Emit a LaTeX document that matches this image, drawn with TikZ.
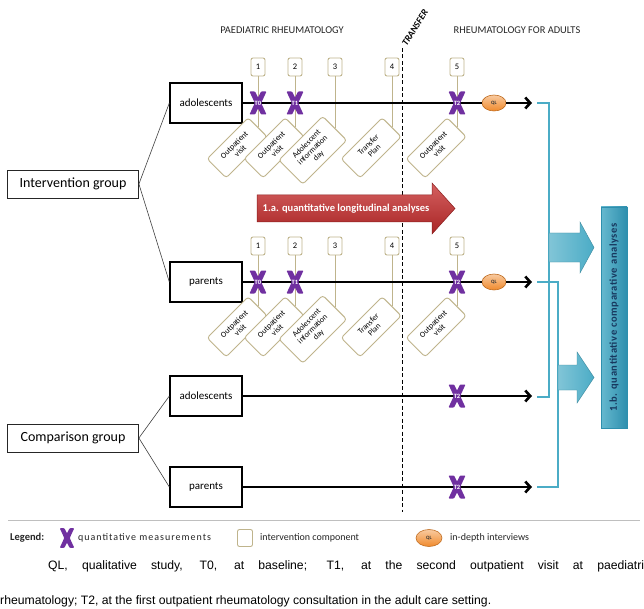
\documentclass[tikz,border=0pt]{standalone}
\usepackage{fontspec}
\setmainfont{Carlito}
\newfontfamily\arialf{Liberation Sans}
\usetikzlibrary{shapes.geometric,arrows.meta}
\definecolor{xpurple}{HTML}{7030A0}
\definecolor{khaki}{HTML}{BFB48C}
\definecolor{aqua}{HTML}{4BACC6}
\definecolor{aquadark}{HTML}{2E8FAE}
\definecolor{navy}{HTML}{17375E}
\definecolor{qlorange}{HTML}{F08A2C}
\definecolor{redarrow}{HTML}{C62B2B}
\newcommand{\pmark}[3]{%
  \begin{scope}[shift={(#2)}]
    \fill[xpurple,rounded corners=0.8pt] (-8.5,-11.5) -- (-3,-11.5) -- (0,-5.5) -- (3,-11.5) -- (8.5,-11.5) -- (3.2,0) -- (8.5,11.5) -- (3,11.5) -- (0,5.5) -- (-3,11.5) -- (-8.5,11.5) -- (-3.2,0) -- cycle;
    \node[xlab] (#1) at (0,0) {#3};
  \end{scope}}
\begin{document}
\begin{tikzpicture}[x=1pt,y=-1pt,
  grp/.style={draw=black!85, line width=0.8pt, minimum width=131pt, minimum height=28pt, inner sep=0pt, font=\fontsize{14}{16}\selectfont},
  sub/.style={draw=black, line width=1.3pt, minimum width=72pt, minimum height=40pt, inner sep=0pt, font=\fontsize{11}{13}\selectfont},
  numbox/.style={draw=khaki, line width=0.9pt, rounded corners=2pt, fill=white, minimum width=14pt, minimum height=18pt, inner sep=0pt, font=\fontsize{8.5}{9}\selectfont},
  compbox/.style={draw=khaki, line width=0.9pt, rounded corners=3pt, fill=white, align=center, rotate=45, anchor=east, minimum width=58pt, minimum height=27pt, inner sep=1pt, font=\fontsize{8}{8.5}\selectfont},
  bigcomp/.style={compbox, minimum width=62pt, minimum height=34pt},
  khline/.style={draw=khaki, line width=0.8pt},
  mainline/.style={line width=2.6pt},
  mainarrow/.style={line width=2.6pt, -{Straight Barb[length=5pt,width=11pt,line width=2.6pt]}},
  grpline/.style={draw=black!75, line width=0.6pt},
  xlab/.style={inner sep=0pt, text=white, font=\fontsize{6.5}{6.5}\bfseries},
  ql/.style={ellipse, draw=qlorange!80!black, line width=0.6pt, top color=qlorange!45!white, bottom color=qlorange, minimum width=24pt, minimum height=16pt, inner sep=0pt, font=\fontsize{5}{5}\bfseries, text=black!80},
  brk/.style={draw=aqua, line width=2.2pt},
  cyarrow/.style={left color=aqua!70!white, right color=aqua, draw=aqua!80!black, line width=0.4pt},
  hdr/.style={font=\fontsize{10.4}{12}\selectfont, text=black!85},
  legtxt/.style={anchor=west, inner sep=0pt, font=\fontsize{10}{11}\selectfont, text=black!85}
]
\useasboundingbox (0,0) rectangle (644,609);
\fill[white] (0,0) rectangle (644,609);

% headers
\node[hdr] (hpaed) at (282,30) {PAEDIATRIC RHEUMATOLOGY};
\node[hdr] (hadult) at (517,30) {RHEUMATOLOGY FOR ADULTS};
\node[rotate=58, font=\fontsize{9.5}{10}\bfseries\itshape] (htr) at (415,28) {TRANSFER};
\coordinate (tr1) at (402,48);
\coordinate (tr2) at (402,512);
\draw[dashed, line width=1pt, dash pattern=on 4pt off 2.5pt] (tr1) -- (tr2);

% group boxes
\node[grp] (ig) at (73,184) {Intervention group};
\node[grp] (cg) at (73,438) {Comparison group};
\node[sub] (ia) at (206,103) {adolescents};
\node[sub] (ip) at (206,282) {parents};
\node[sub] (ca) at (206,396) {adolescents};
\node[sub] (cp) at (206,487) {parents};
\draw[grpline] (ig.east) -- (ia.west);
\draw[grpline] (ig.east) -- (ip.west);
\draw[grpline] (cg.east) -- (ca.west);
\draw[grpline] (cg.east) -- (cp.west);

% numbered boxes and components, rows
\foreach \r/\y in {a/0, p/179}{
  \node[numbox] (n1\r) at (258,67+\y) {1};
  \node[numbox] (n2\r) at (295,67+\y) {2};
  \node[numbox] (n3\r) at (335,67+\y) {3};
  \node[numbox] (n4\r) at (392,67+\y) {4};
  \node[numbox] (n5\r) at (457,67+\y) {5};
  \node[compbox] (c1\r) at (258,127+\y) {Outpatient\\visit};
  \node[compbox] (c2\r) at (295,127+\y) {Outpatient\\visit};
  \node[bigcomp] (c3\r) at (335,128+\y) {Adolescent\\information\\day};
  \node[compbox] (c4\r) at (392,127+\y) {Transfer\\Plan};
  \node[compbox] (c5\r) at (457,127+\y) {Outpatient\\visit};
  \foreach \k in {1,...,5}{\draw[khline] (n\k\r.south) -- (c\k\r.east);}
}

% QL nodes and arrow ends
\node[ql] (qa) at (494,103) {QL};
\node[ql] (qp) at (494,282) {QL};
\coordinate (ea) at (532,103);
\coordinate (ep) at (532,282);
\coordinate (eca) at (532,396);
\coordinate (ecp) at (532,487);
\draw[mainline] (ia.east) -- (qa.west);
\draw[mainarrow] (qa.east) -- (ea);
\draw[mainline] (ip.east) -- (qp.west);
\draw[mainarrow] (qp.east) -- (ep);
\draw[mainarrow] (ca.east) -- (eca);
\draw[mainarrow] (cp.east) -- (ecp);

% measurement crosses
\pmark{t0a}{258,103}{T0}
\pmark{t1a}{295,103}{T1}
\pmark{t2a}{457,103}{T2}
\pmark{t0p}{258,282}{T0}
\pmark{t1p}{295,282}{T1}
\pmark{t2p}{457,282}{T2}
\pmark{t2ca}{457,396}{T2}
\pmark{t2cp}{457,487}{T2}

% red longitudinal arrow
\shade[top color=redarrow!75!white, bottom color=redarrow!85!black, draw=redarrow!70!black, line width=0.5pt]
  (257,195) -- (432,195) -- (432,183) -- (455,208.5) -- (432,234) -- (432,222) -- (257,222) -- cycle;
\node[text=white, font=\fontsize{10.5}{12}\bfseries] (longi) at (346,208.5) {1.a. quantitative longitudinal analyses};

% cyan brackets
\coordinate (b1a) at (537,103);
\coordinate (b1b) at (537,397);
\coordinate (b2a) at (537,282);
\coordinate (b2b) at (537,487);
\draw[brk] (b2a) -- (558,282) -- (558,487) -- (b2b);
\draw[brk] (b1a) -- (549,103) -- (549,397) -- (b1b);

% cyan block arrows
\shade[cyarrow] (549,233) -- (580,233) -- (580,222) -- (594,247.5) -- (580,273) -- (580,262) -- (549,262) -- cycle;
\shade[cyarrow] (558,365) -- (577,365) -- (577,352) -- (594,377.5) -- (577,403) -- (577,390) -- (558,390) -- cycle;

% comparative analyses box
\node[draw=aquadark, line width=0.6pt, left color=aqua!85!white, right color=aquadark, minimum width=26pt, minimum height=221pt, inner sep=0pt] (cmpbox) at (614,317.5) {};
\node[rotate=90, text=navy, font=\fontsize{10.5}{12}\bfseries\addfontfeatures{LetterSpace=6}] (cmptxt) at (cmpbox.center) {1.b. quantitative comparative analyses};

% legend
\coordinate (lg1) at (8,520);
\coordinate (lg2) at (640,520);
\draw[black!25, line width=0.8pt] (lg1) -- (lg2);
\node[legtxt, font=\fontsize{10.5}{11}\bfseries] (legt) at (10,538) {Legend:};
\begin{scope}[shift={(67,538)}, scale=0.85]
  \fill[xpurple,rounded corners=0.8pt] (-8.5,-11.5) -- (-3,-11.5) -- (0,-5.5) -- (3,-11.5) -- (8.5,-11.5) -- (3.2,0) -- (8.5,11.5) -- (3,11.5) -- (0,5.5) -- (-3,11.5) -- (-8.5,11.5) -- (-3.2,0) -- cycle;
\end{scope}
\node[legtxt, font=\fontsize{10}{11}\selectfont\addfontfeatures{LetterSpace=10}] (legx) at (78,538) {quantitative measurements};
\node[numbox, minimum width=15pt, minimum height=17pt] (legbox) at (245,538) {};
\node[legtxt] (legc) at (260,538) {intervention component};
\node[ql, minimum width=26pt, minimum height=17pt] (legql) at (429,538) {QL};
\node[legtxt] (legi) at (450,538) {in-depth interviews};

% caption
\node[anchor=base west, inner sep=0pt, font=\arialf\fontsize{12.2}{14}\selectfont] (cap1) at (48,569) {\makebox[602pt][s]{QL, qualitative study, T0, at baseline; T1, at the second outpatient visit at paediatric}};
\node[anchor=base west, inner sep=0pt, font=\arialf\fontsize{12.2}{14}\selectfont] (cap2) at (0,604) {rheumatology; T2, at the first outpatient rheumatology consultation in the adult care setting.};
\end{tikzpicture}
\end{document}
